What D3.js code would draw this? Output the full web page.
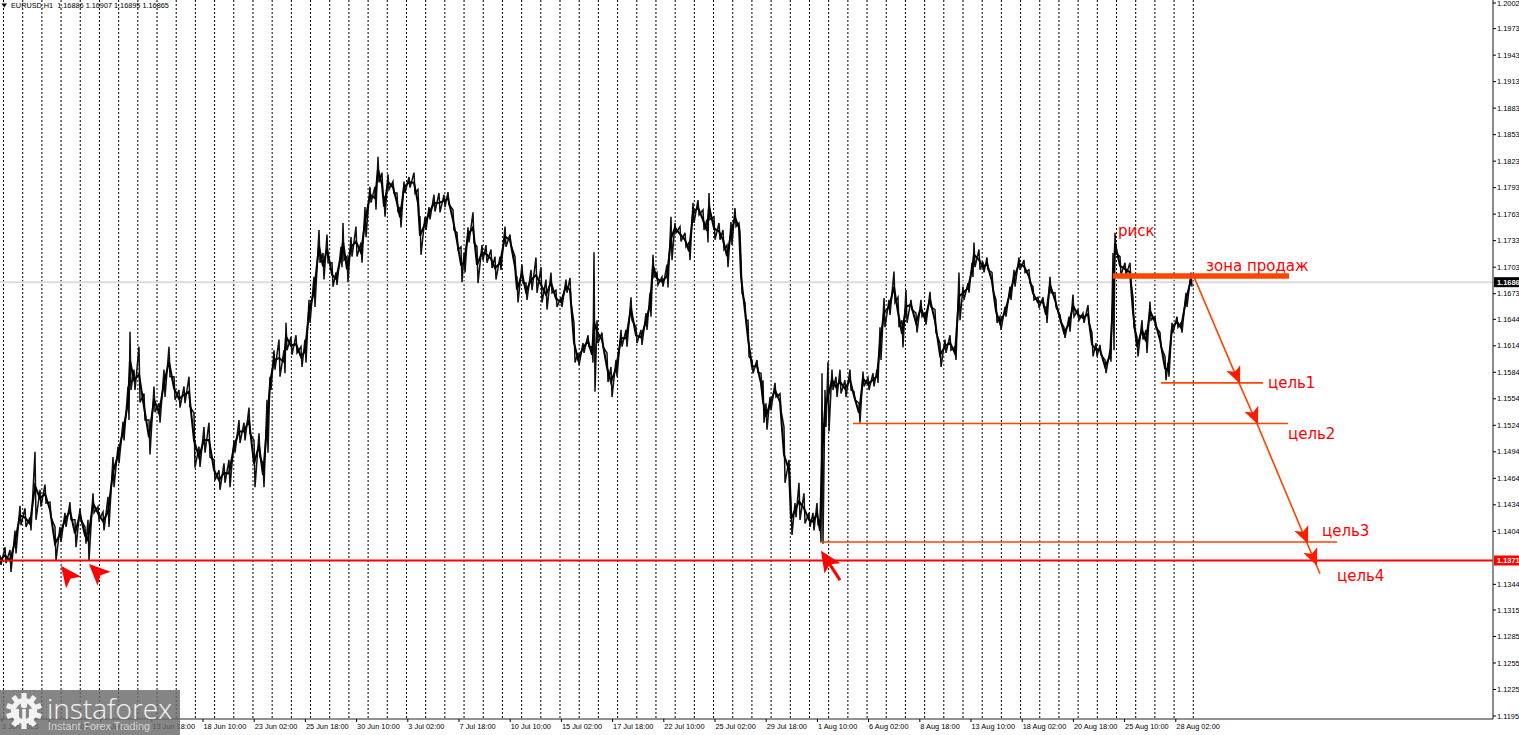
<!DOCTYPE html>
<html><head><meta charset="utf-8">
<script src="https://cdn.jsdelivr.net/npm/d3@7/dist/d3.min.js"></script>
<style>html,body{margin:0;padding:0;background:#fff;overflow:hidden}svg{display:block}</style>
</head><body><svg id="c" width="1519" height="735"></svg>
<script>
const barIndex=[0,5,10,15,20,25,30,35,40,45,50,55,60,65,70,75,80,85,88,93,98,103,108,113,118,123,128,130,134,139,144,149,154,159,164,169,174,179,184,189,194,199,204,209,214,219,224,229,234,239,244,249,254,259,263,267,270,274,279,284,286,291,296,301,305,309,314,319,323,327,332,336,341,343,347,351,356,361,365,370,375,378,382,384,388,393,397,400,404,409,414,418,420,425,429,434,439,444,448,453,457,461,464,468,473,477,482,486,491,495,500,505,510,515,517,522,526,531,536,541,546,551,556,561,566,570,574,578,583,588,592,594,597,602,607,611,616,621,626,631,636,641,646,650,653,657,662,667,671,675,680,685,689,693,698,703,707,709,714,719,723,727,731,735,739,741,745,748,752,757,761,763,766,770,775,780,784,789,791,795,799,804,809,813,817,820,822,825,828,832,836,840,845,850,854,859,863,868,873,877,880,884,889,894,898,902,906,911,916,921,925,930,935,940,945,950,955,959,963,968,972,974,979,983,987,992,996,1000,1005,1010,1014,1019,1024,1029,1033,1038,1043,1046,1050,1055,1060,1064,1069,1073,1078,1083,1088,1092,1096,1100,1105,1110,1113,1115,1120,1125,1130,1133,1137,1142,1146,1150,1155,1160,1165,1168,1172,1177,1181,1186,1191];
const highs=[1.1377,1.1386,1.1383,1.1405,1.1433,1.1430,1.1420,1.1494,1.1451,1.1457,1.1437,1.1409,1.1409,1.1425,1.1437,1.1417,1.1430,1.1409,1.1417,1.1447,1.1432,1.1426,1.1443,1.1488,1.1500,1.1528,1.1568,1.1630,1.1587,1.1613,1.1560,1.1530,1.1568,1.1549,1.1587,1.1613,1.1579,1.1564,1.1568,1.1579,1.1538,1.1500,1.1522,1.1527,1.1485,1.1473,1.1481,1.1485,1.1507,1.1530,1.1527,1.1544,1.1507,1.1515,1.1481,1.1553,1.1579,1.1609,1.1621,1.1609,1.1640,1.1624,1.1626,1.1613,1.1621,1.1666,1.1692,1.1745,1.1719,1.1740,1.1708,1.1697,1.1726,1.1753,1.1715,1.1737,1.1749,1.1731,1.1771,1.1794,1.1794,1.1828,1.1810,1.1783,1.1808,1.1800,1.1787,1.1771,1.1800,1.1805,1.1810,1.1791,1.1760,1.1760,1.1771,1.1785,1.1787,1.1785,1.1788,1.1768,1.1742,1.1726,1.1719,1.1748,1.1765,1.1726,1.1728,1.1728,1.1723,1.1715,1.1715,1.1749,1.1740,1.1715,1.1692,1.1706,1.1685,1.1700,1.1714,1.1703,1.1689,1.1697,1.1677,1.1669,1.1689,1.1691,1.1640,1.1606,1.1617,1.1626,1.1613,1.1720,1.1643,1.1629,1.1606,1.1590,1.1598,1.1632,1.1632,1.1669,1.1635,1.1632,1.1651,1.1674,1.1717,1.1697,1.1692,1.1706,1.1760,1.1753,1.1749,1.1742,1.1731,1.1776,1.1779,1.1768,1.1757,1.1787,1.1760,1.1753,1.1745,1.1728,1.1754,1.1770,1.1753,1.1711,1.1663,1.1643,1.1598,1.1598,1.1583,1.1575,1.1549,1.1556,1.1572,1.1560,1.1522,1.1485,1.1436,1.1436,1.1459,1.1447,1.1425,1.1425,1.1436,1.1417,1.1583,1.1564,1.1596,1.1587,1.1579,1.1587,1.1575,1.1587,1.1562,1.1549,1.1585,1.1578,1.1583,1.1587,1.1635,1.1668,1.1666,1.1698,1.1669,1.1643,1.1677,1.1666,1.1651,1.1666,1.1651,1.1675,1.1655,1.1617,1.1621,1.1626,1.1613,1.1697,1.1681,1.1685,1.1708,1.1731,1.1723,1.1709,1.1714,1.1697,1.1666,1.1647,1.1658,1.1681,1.1700,1.1714,1.1711,1.1700,1.1681,1.1669,1.1669,1.1658,1.1692,1.1674,1.1649,1.1635,1.1647,1.1672,1.1655,1.1651,1.1660,1.1629,1.1617,1.1615,1.1598,1.1609,1.1719,1.1742,1.1715,1.1708,1.1708,1.1669,1.1624,1.1643,1.1632,1.1664,1.1647,1.1629,1.1602,1.1595,1.1640,1.1647,1.1640,1.1674,1.1697];
const lows=[1.1366,1.1368,1.1358,1.1379,1.1411,1.1409,1.1405,1.1417,1.1432,1.1436,1.1420,1.1371,1.1392,1.1409,1.1417,1.1386,1.1417,1.1390,1.1371,1.1425,1.1417,1.1405,1.1409,1.1454,1.1481,1.1507,1.1530,1.1564,1.1564,1.1550,1.1530,1.1491,1.1539,1.1527,1.1556,1.1579,1.1553,1.1544,1.1549,1.1545,1.1476,1.1477,1.1493,1.1488,1.1462,1.1451,1.1459,1.1454,1.1493,1.1504,1.1507,1.1515,1.1454,1.1488,1.1454,1.1493,1.1564,1.1587,1.1579,1.1583,1.1609,1.1604,1.1606,1.1590,1.1595,1.1640,1.1658,1.1708,1.1689,1.1708,1.1681,1.1683,1.1703,1.1711,1.1686,1.1715,1.1715,1.1708,1.1737,1.1776,1.1768,1.1799,1.1783,1.1760,1.1791,1.1787,1.1765,1.1748,1.1787,1.1793,1.1787,1.1760,1.1717,1.1745,1.1757,1.1766,1.1765,1.1771,1.1774,1.1745,1.1723,1.1686,1.1697,1.1731,1.1731,1.1685,1.1711,1.1708,1.1702,1.1689,1.1700,1.1726,1.1728,1.1692,1.1663,1.1685,1.1666,1.1677,1.1674,1.1663,1.1655,1.1674,1.1658,1.1658,1.1674,1.1663,1.1595,1.1592,1.1606,1.1613,1.1595,1.1562,1.1617,1.1613,1.1573,1.1556,1.1579,1.1613,1.1613,1.1643,1.1617,1.1615,1.1632,1.1647,1.1692,1.1683,1.1681,1.1680,1.1711,1.1742,1.1732,1.1726,1.1711,1.1753,1.1762,1.1745,1.1731,1.1757,1.1734,1.1734,1.1723,1.1703,1.1728,1.1749,1.1742,1.1674,1.1643,1.1602,1.1583,1.1584,1.1560,1.1527,1.1519,1.1541,1.1556,1.1541,1.1459,1.1462,1.1400,1.1420,1.1417,1.1413,1.1409,1.1405,1.1413,1.1392,1.1390,1.1522,1.1517,1.1564,1.1556,1.1560,1.1556,1.1564,1.1553,1.1527,1.1568,1.1564,1.1568,1.1572,1.1598,1.1635,1.1649,1.1663,1.1635,1.1612,1.1640,1.1655,1.1629,1.1647,1.1638,1.1658,1.1629,1.1590,1.1606,1.1609,1.1598,1.1643,1.1666,1.1674,1.1692,1.1703,1.1700,1.1697,1.1700,1.1677,1.1640,1.1632,1.1647,1.1666,1.1681,1.1700,1.1697,1.1685,1.1666,1.1657,1.1658,1.1640,1.1674,1.1658,1.1641,1.1623,1.1630,1.1647,1.1643,1.1640,1.1640,1.1602,1.1602,1.1604,1.1583,1.1596,1.1609,1.1719,1.1694,1.1694,1.1686,1.1635,1.1602,1.1621,1.1606,1.1643,1.1635,1.1613,1.1575,1.1579,1.1629,1.1635,1.1629,1.1658,1.1681];
const priceTicks=[1.2002,1.1973,1.1943,1.1913,1.1883,1.1853,1.1823,1.1793,1.1763,1.1733,1.1703,1.1673,1.1644,1.1614,1.1584,1.1554,1.1524,1.1494,1.1464,1.1434,1.1404,1.1344,1.1315,1.1285,1.1255,1.1225,1.1195];
const dateLabels=["3 Jun 2025","6 Jun 10:00","11 Jun 02:00","13 Jun 18:00","18 Jun 10:00","23 Jun 02:00","25 Jun 18:00","30 Jun 10:00","3 Jul 02:00","7 Jul 18:00","10 Jul 10:00","15 Jul 02:00","17 Jul 18:00","22 Jul 10:00","25 Jul 02:00","29 Jul 18:00","1 Aug 10:00","6 Aug 02:00","8 Aug 18:00","13 Aug 10:00","18 Aug 02:00","20 Aug 18:00","25 Aug 10:00","28 Aug 02:00"];
const currentPrice=1.1686, supportPrice=1.1371, zonePrice=1.1693;
const targetPrices=[1.1572,1.1526,1.1392], targetStart=[1161,853,820], targetEnd=[1263,1288,1337];
const targetNames=["цель1","цель2","цель3","цель4"], targetLabelBar=[1268,1288,1322,1337], targetLabelPrice=[1.1566,1.1508,1.1399,1.1348];
const pathBars=[1194,1239,1257,1307,1320], pathPrices=[1.1692,1.1572,1.1526,1.1391,1.1356];
const headBars=[1240,1258,1308,1317], headPrices=[1.1571,1.1525,1.1390,1.1365];
const markerBars=[61,89,821], markerPrices=[1.1365,1.1367,1.1382], markerAngles=[53,44,57];

const svg=d3.select("#c");
const x=d3.scaleLinear().domain([0,1519]).range([0,1519]);
const y=d3.scaleLinear().domain([1.2002,1.1195]).range([3,716]);
const axisX=1493, axisY=719;
const F='"Liberation Sans",sans-serif';

// period separators
svg.append("g").selectAll("line").data(d3.range(63)).join("line")
 .attr("x1",i=>x(3.5+19.19*i)).attr("x2",i=>x(3.5+19.19*i)).attr("y1",0).attr("y2",axisY)
 .attr("stroke","#000").attr("stroke-width",1).attr("stroke-dasharray","2,2");

// current price line
svg.append("line").attr("x1",0).attr("x2",axisX).attr("y1",y(currentPrice)).attr("y2",y(currentPrice)).attr("stroke","#dcdcdc").attr("stroke-width",2);

// price series: high-low zigzag plus the denser body between them
const pts=[];barIndex.forEach((b,i)=>{pts.push([b,highs[i]]);pts.push([b+1,lows[i]]);});
svg.append("path").attr("d",d3.line().x(d=>x(d[0])).y(d=>y(d[1]))(pts)).attr("fill","none").attr("stroke","#111").attr("stroke-width",1.5);
svg.append("path").attr("d",d3.line().x((b)=>x(b)).y((b,i)=>y((highs[i]+lows[i])/2))(barIndex)).attr("fill","none").attr("stroke","#000").attr("stroke-width",2);

// support
svg.append("line").attr("x1",0).attr("x2",axisX).attr("y1",y(supportPrice)).attr("y2",y(supportPrice)).attr("stroke","#ff0000").attr("stroke-width",2);

// zone + targets
const OR="#ff4500";
svg.append("line").attr("x1",x(1113)).attr("x2",x(1289)).attr("y1",y(zonePrice)).attr("y2",y(zonePrice)).attr("stroke",OR).attr("stroke-width",5.5);
svg.append("g").selectAll("line").data(targetPrices).join("line")
 .attr("x1",(d,i)=>x(targetStart[i])).attr("x2",(d,i)=>x(targetEnd[i])).attr("y1",d=>y(d)).attr("y2",d=>y(d)).attr("stroke",OR).attr("stroke-width",1.6);

// path
const pathPts=pathBars.map((b,i)=>[x(b),y(pathPrices[i])]);
svg.append("path").attr("d",d3.line()(pathPts)).attr("fill","none").attr("stroke",OR).attr("stroke-width",1.6);

// heads
const place=(px,py,angDeg)=>`translate(${px},${py}) rotate(${angDeg})`;
const headShape=(L,W,N)=>`M0,0L${L},${W}L${N},0L${L},${-W}Z`;
const dirAngle=Math.atan2(y(1.1356)-y(1.1692),x(1320)-x(1194))*180/Math.PI;
svg.append("g").selectAll("path").data(headBars).join("path")
 .attr("d",headShape(-17,7.5,-13)).attr("transform",(b,i)=>place(x(b),y(headPrices[i]),dirAngle))
 .attr("fill","#ff1a00");
svg.append("g").selectAll("path").data(markerBars).join("path")
 .attr("d",headShape(21,9.5,16)).attr("transform",(b,i)=>place(x(b),y(markerPrices[i]),markerAngles[i]))
 .attr("fill","#ff0000");
// tail of third marker
const a3=markerAngles[2]*Math.PI/180;
svg.append("line").attr("x1",x(markerBars[2])+12*Math.cos(a3)).attr("y1",y(markerPrices[2])+12*Math.sin(a3))
 .attr("x2",x(markerBars[2])+35*Math.cos(a3)).attr("y2",y(markerPrices[2])+35*Math.sin(a3)).attr("stroke","#ff0000").attr("stroke-width",3);

// annotation texts
const LAB='"DejaVu Sans",sans-serif';
const ann=svg.append("g").attr("fill","#ff0000").attr("font-family",LAB).attr("font-size",15);
targetNames.forEach((t,i)=>ann.append("text").attr("x",x(targetLabelBar[i])).attr("y",y(targetLabelPrice[i])).text(t));
ann.append("text").attr("x",x(1118)).attr("y",y(1.1738)).text("риск");
ann.append("text").attr("x",x(1206)).attr("y",y(1.1699)).text("зона продаж");

// axes
svg.append("rect").attr("x",axisX).attr("y",0).attr("width",26).attr("height",735).attr("fill","#fff");
svg.append("rect").attr("x",0).attr("y",axisY+1).attr("width",1519).attr("height",15).attr("fill","#fff");
svg.append("line").attr("x1",axisX).attr("x2",axisX).attr("y1",0).attr("y2",axisY).attr("stroke","#666").attr("stroke-width",1.5);
svg.append("line").attr("x1",0).attr("x2",axisX).attr("y1",axisY).attr("y2",axisY).attr("stroke","#222").attr("stroke-width",1.2);
const yAxis=svg.append("g").attr("font-family",F).attr("font-size",7.4).attr("fill","#000");
priceTicks.forEach(p=>{
  yAxis.append("line").attr("x1",axisX).attr("x2",axisX+3).attr("y1",y(p)).attr("y2",y(p)).attr("stroke","#000");
  yAxis.append("text").attr("x",axisX+4).attr("y",y(p)+2.6).text(p.toFixed(4));
});
const xAxis=svg.append("g").attr("font-family",F).attr("font-size",7.4).attr("fill","#000");
dateLabels.forEach((t,i)=>{
  const px=x(i===0?2:203-4*51.2+51.2*i);
  xAxis.append("line").attr("x1",px).attr("x2",px).attr("y1",axisY).attr("y2",axisY+3).attr("stroke","#000");
  xAxis.append("text").attr("x",px+(i===0?0:0.5)).attr("y",729).text(t);
});
// badges
[[currentPrice,"#000"],[supportPrice,"#ff0000"]].forEach(([p,c])=>{
  svg.append("rect").attr("x",axisX+1).attr("y",y(p)-5).attr("width",25).attr("height",10).attr("fill",c);
  svg.append("text").attr("x",axisX+4).attr("y",y(p)+2.6).attr("fill","#fff").attr("font-family",F).attr("font-size",7.4).attr("font-weight","bold").text(p.toFixed(4));
});

// header
svg.append("path").attr("d","M1.5,3.5L7,3.5L4.2,7.5Z").attr("fill","#000");
svg.append("text").attr("x",11).attr("y",7.5).attr("font-family",F).attr("font-size",7.3).attr("fill","#000").attr("xml:space","preserve").text("EURUSD,H1  1.16886 1.16907 1.16895 1.16865");

// logo
const logo=svg.append("g");
logo.append("rect").attr("x",0).attr("y",690).attr("width",180).attr("height",45).attr("fill","#6a6a6a").attr("fill-opacity",.82);
const gear=logo.append("g").attr("transform","translate(24,711)").attr("fill","#f2f2f2");
d3.range(10).forEach(i=>gear.append("rect").attr("x",-2.6).attr("y",-18).attr("width",5.2).attr("height",8).attr("transform",`rotate(${i*36})`));
gear.append("path").attr("fill-rule","evenodd").attr("d","M0,-13A13,13 0 1,1 0,13A13,13 0 1,1 0,-13ZM0,-8A8,8 0 1,0 0,8A8,8 0 1,0 0,-8Z");
gear.append("circle").attr("cy",-6).attr("r",3.2);
gear.append("rect").attr("x",-1.8).attr("y",-2).attr("width",3.6).attr("height",18);
gear.append("rect").attr("x",-8).attr("y",-2).attr("width",3).attr("height",16);
gear.append("rect").attr("x",5).attr("y",-2).attr("width",3).attr("height",16);
logo.append("text").attr("x",47).attr("y",719).attr("font-family",'"Open Sans",sans-serif').attr("font-weight",300).attr("font-size",28).attr("fill","#f4f4f4").text("instaforex");
logo.append("text").attr("x",48).attr("y",730).attr("font-family",F).attr("font-size",10.8).attr("fill","#d8d8d8").text("Instant Forex Trading");
</script></body></html>
